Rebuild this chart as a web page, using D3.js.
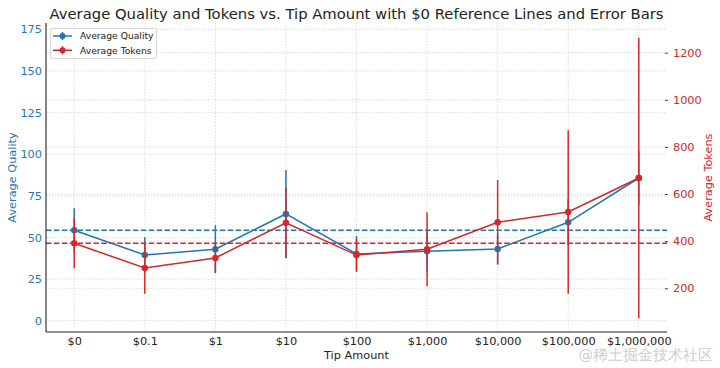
<!DOCTYPE html>
<html><head><meta charset="utf-8">
<script src="https://cdn.jsdelivr.net/npm/d3@7"></script>
<style>body{margin:0;background:#fff}svg{display:block}text{font-family:"DejaVu Sans",sans-serif}</style>
</head><body>
<script>
const tips = ["$0","$0.1","$1","$10","$100","$1,000","$10,000","$100,000","$1,000,000"];
const quality = [54.3, 39.5, 42.9, 64.1, 40.1, 41.7, 43.1, 59.1, 85.7];
const qualityErr = [13.2, 10.6, 14.4, 26.4, 10.8, 12, 9, 14, 16];
const tokens = [391, 286, 329, 478, 341, 366, 480, 524, 668];
const tokensErr = [106, 109, 62, 150, 69, 157, 180, 347, 595];
const qualityTicks = [0,25,50,75,100,125,150,175];
const tokenTicks = [200,400,600,800,1000,1200];
const qualityRef = quality[0], tokenRef = tokens[0];

const W=720,H=368;
const L=46,R=667,T=23,B=332;
const blue="#1f77b4", red="#d62728";
const svg=d3.select("body").append("svg").attr("width",W).attr("height",H);

const x=d3.scaleLinear().domain([-0.4,8.4]).range([L,R]);
const yq=d3.scaleLinear().domain([-6.8,178.8]).range([B,T]);
const yt=d3.scaleLinear().domain([14.5,1326]).range([B,T]);

// grid
const grid=svg.append("g").attr("stroke","#d6d6d6").attr("stroke-width",0.8).attr("stroke-dasharray","1.5,1.5");
grid.selectAll(".gx").data(tips).join("line").attr("x1",(d,i)=>x(i)).attr("x2",(d,i)=>x(i)).attr("y1",T).attr("y2",B);
grid.selectAll(".gq").data(qualityTicks).join("line").attr("x1",L).attr("x2",R).attr("y1",d=>yq(d)).attr("y2",d=>yq(d));
grid.selectAll(".gt").data(tokenTicks).join("line").attr("x1",L).attr("x2",R).attr("y1",d=>yt(d)).attr("y2",d=>yt(d));

function series(vals,errs,y,color,ref){
  const g=svg.append("g");
  g.selectAll(".e").data(vals).join("line").attr("x1",(d,i)=>x(i)).attr("x2",(d,i)=>x(i))
    .attr("y1",(d,i)=>y(d-errs[i])).attr("y2",(d,i)=>y(d+errs[i])).attr("stroke",color).attr("stroke-width",1.5);
  g.append("path").datum(vals).attr("fill","none").attr("stroke",color).attr("stroke-width",1.5)
    .attr("d",d3.line().x((d,i)=>x(i)).y(d=>y(d)));
  g.selectAll("circle").data(vals).join("circle").attr("cx",(d,i)=>x(i)).attr("cy",d=>y(d)).attr("r",3.2).attr("fill",color);
  g.append("line").attr("x1",L).attr("x2",R).attr("y1",y(ref)).attr("y2",y(ref))
    .attr("stroke",color).attr("stroke-width",1.5).attr("stroke-dasharray","5.5,2.4");
}
series(quality,qualityErr,yq,blue,qualityRef);
series(tokens,tokensErr,yt,red,tokenRef);

// spines
svg.append("line").attr("x1",L).attr("x2",L).attr("y1",T).attr("y2",B).attr("stroke","#222").attr("stroke-width",1.1);
svg.append("line").attr("x1",L).attr("x2",R).attr("y1",B).attr("y2",B).attr("stroke","#222").attr("stroke-width",1.1);

// axes via d3
const fs=11.3;
const ax=svg.append("g").attr("transform",`translate(0,${B})`)
  .call(d3.axisBottom(x).tickValues(d3.range(tips.length)).tickFormat(i=>tips[i]).tickSize(0).tickPadding(5));
ax.select(".domain").remove();
ax.selectAll("text").attr("font-size",fs).attr("fill","#222").attr("font-family","DejaVu Sans");

const ayq=svg.append("g").attr("transform",`translate(${L},0)`)
  .call(d3.axisLeft(yq).tickValues(qualityTicks).tickFormat(d3.format("d")).tickSize(0).tickPadding(4));
ayq.select(".domain").remove();
ayq.selectAll("text").attr("font-size",fs).attr("fill",blue).attr("font-family","DejaVu Sans");

const ayt=svg.append("g").attr("transform",`translate(${R},0)`)
  .call(d3.axisRight(yt).tickValues(tokenTicks).tickFormat(d3.format("d")).tickSize(3).tickPadding(3));
ayt.select(".domain").remove();
ayt.selectAll("line").attr("stroke","#444").attr("transform","translate(-2,0)");
ayt.selectAll("text").attr("font-size",fs).attr("fill",red).attr("font-family","DejaVu Sans");

// labels
svg.append("text").attr("x",(L+R)/2).attr("y",359).attr("text-anchor","middle").attr("font-size",fs).attr("fill","#222").text("Tip Amount");
svg.append("text").attr("transform",`translate(16,${(T+B)/2}) rotate(-90)`).attr("text-anchor","middle").attr("font-size",fs).attr("fill",blue).text("Average Quality");
svg.append("text").attr("transform",`translate(711.5,${(T+B)/2}) rotate(-90)`).attr("text-anchor","middle").attr("font-size",fs).attr("fill",red).text("Average Tokens");
svg.append("text").attr("x",356.5).attr("y",19).attr("text-anchor","middle").attr("font-size",14.8).attr("fill","#222")
  .text("Average Quality and Tokens vs. Tip Amount with $0 Reference Lines and Error Bars");

// legend
const lg=svg.append("g");
lg.append("rect").attr("x",50.5).attr("y",28.5).attr("width",106).attr("height",30).attr("rx",2)
  .attr("fill","#fff").attr("fill-opacity",0.85).attr("stroke","#ccc").attr("stroke-width",0.8);
const items=[{name:"Average Quality",color:blue},{name:"Average Tokens",color:red}];
items.forEach((it,k)=>{
  const cy=36+k*14.3;
  lg.append("line").attr("x1",53).attr("x2",72).attr("y1",cy).attr("y2",cy).attr("stroke",it.color).attr("stroke-width",1.5);
  lg.append("line").attr("x1",62.5).attr("x2",62.5).attr("y1",cy-4).attr("y2",cy+4).attr("stroke",it.color).attr("stroke-width",1.5);
  lg.append("circle").attr("cx",62.5).attr("cy",cy).attr("r",3).attr("fill",it.color);
  lg.append("text").attr("x",80).attr("y",cy).attr("dy","0.35em").attr("font-size",9.2).attr("fill","#222").text(it.name);
});

// watermark
svg.append("text").attr("x",713).attr("y",360).attr("text-anchor","end").attr("font-size",14.5)
  .attr("font-family","'Noto Sans CJK SC',sans-serif").attr("fill","#c8c8c8").attr("fill-opacity",0.9).text("@稀土掘金技术社区");
</script>
</body></html>
